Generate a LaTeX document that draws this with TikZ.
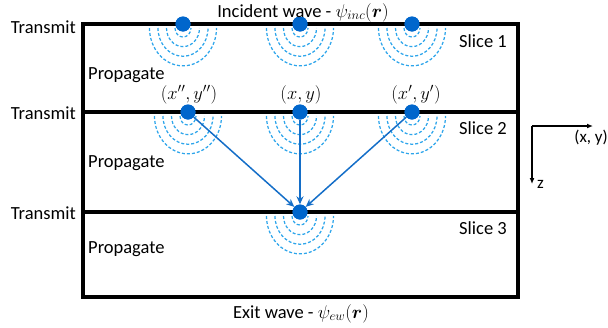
\RequirePackage{fix-cm}
\documentclass[tikz,border=0pt]{standalone}
\usepackage{amsmath}
\usepackage{fontspec}
\setmainfont{Carlito}
\usetikzlibrary{arrows.meta}
\definecolor{dotblue}{RGB}{0,102,204}
\definecolor{arrblue}{RGB}{20,110,200}
\definecolor{waveblue}{RGB}{45,165,235}
\tikzset{
  dot/.style={circle,fill=dotblue,inner sep=0pt,minimum size=15pt},
  wave/.style={waveblue,line width=1.25pt,dash pattern=on 3pt off 2pt},
  frame/.style={line width=3.2pt,line cap=rect},
  arr/.style={arrblue,line width=1.5pt,-{Stealth[length=8pt,width=7pt]}},
  axis/.style={black,line width=1.4pt,-{Latex[length=6pt,width=5pt]}},
  lbl/.style={inner sep=0pt,font=\fontsize{18.5}{22}\selectfont},
}
\newcommand\mywaves[1]{%
  \foreach \r in {8,16.5,25,33.5}{%
    \draw[wave] ([xshift=-\r pt,yshift=-4pt]#1.center) arc[start angle=180,end angle=360,x radius=\r pt,y radius=1.13*\r pt];}}
\begin{document}
\begin{tikzpicture}[x=1pt,y=-1pt]
\useasboundingbox (0,0) rectangle (608,327);
% frame
\draw[frame] (83,24) rectangle (518,297);
\draw[frame] (83,112) -- (518,112);
\draw[frame] (83,212) -- (518,212);
% dots
\node[dot] (a1) at (183,24) {};
\node[dot] (a2) at (300,24) {};
\node[dot] (a3) at (412,24) {};
\node[dot] (b1) at (188,112) {};
\node[dot] (b2) at (300,112) {};
\node[dot] (b3) at (412,112) {};
\node[dot] (c2) at (300,212) {};
% waves
\mywaves{a1}\mywaves{a2}\mywaves{a3}
\mywaves{b1}\mywaves{b2}\mywaves{b3}
\mywaves{c2}
\foreach \n in {a1,a2,a3,b1,b2,b3,c2}{\node[dot] at (\n) {};}
% arrows
\draw[arr] (b1) -- (c2);
\draw[arr] (b2) -- (c2);
\draw[arr] (b3) -- (c2);
% left labels
\node[lbl,anchor=base east] (t1) at (76,33) {Transmit};
\node[lbl,anchor=base east] (t2) at (76,119) {Transmit};
\node[lbl,anchor=base east] (t3) at (76,219) {Transmit};
\node[lbl,anchor=base west] (p1) at (88,79) {Propagate};
\node[lbl,anchor=base west] (p2) at (88,167) {Propagate};
\node[lbl,anchor=base west] (p3) at (88,253) {Propagate};
\node[lbl,anchor=base east] (s1) at (507,47) {Slice 1};
\node[lbl,anchor=base east] (s2) at (507,134) {Slice 2};
\node[lbl,anchor=base east] (s3) at (507,234) {Slice 3};
% top / bottom
\node[lbl,anchor=base] (inc) at (303,17) {Incident wave - $\psi_{inc}(\boldsymbol{r})$};
\node[lbl,anchor=base] (ew) at (301,318) {Exit wave - $\psi_{ew}(\boldsymbol{r})$};
% coordinates
\node[lbl,anchor=base] (l1) at (189,99) {$(x'',y'')$};
\node[lbl,anchor=base] (l2) at (301,99) {$(x,y)$};
\node[lbl,anchor=base] (l3) at (416,99) {$(x',y')$};
% axes
\coordinate (o) at (532,126);
\coordinate (ax) at (593,126);
\coordinate (az) at (532,184);
\draw[axis] (o) -- (ax);
\draw[axis] (o) -- (az);
\node[lbl,anchor=base east,font=\fontsize{17}{20}\selectfont] (xy) at (608,142) {(x, y)};
\node[lbl,anchor=base west,font=\fontsize{17}{20}\selectfont] (zl) at (537,188) {z};
\end{tikzpicture}
\end{document}
